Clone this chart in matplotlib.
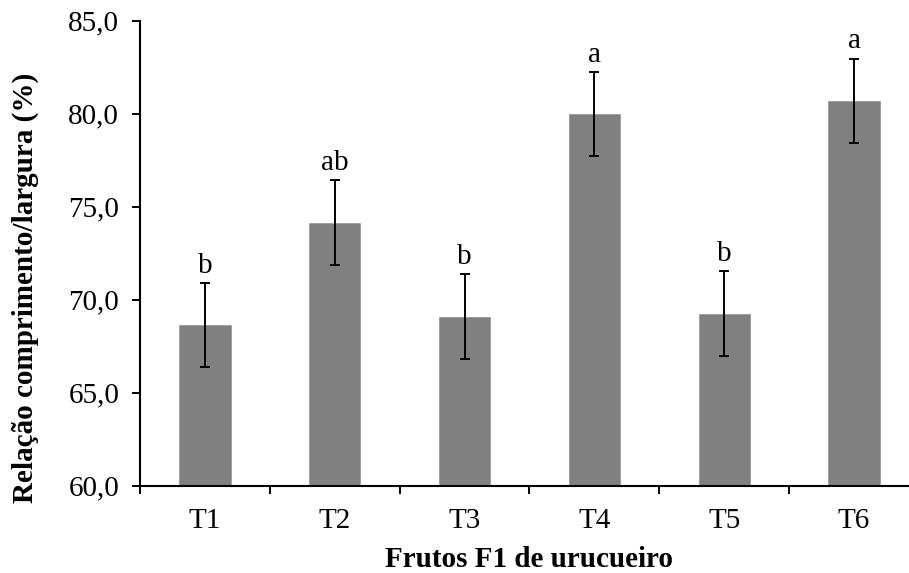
import matplotlib
matplotlib.use("Agg")
import matplotlib.pyplot as plt
from matplotlib.ticker import FuncFormatter, FixedLocator

# Relação comprimento/largura dos frutos F1 de urucueiro
tratamentos = ["T1", "T2", "T3", "T4", "T5", "T6"]
medias = [68.64, 74.14, 69.09, 79.97, 69.25, 80.70]
erros = [2.27, 2.28, 2.27, 2.27, 2.29, 2.26]
letras = ["b", "ab", "b", "a", "b", "a"]

plt.rcParams["font.family"] = ["Liberation Serif", "DejaVu Serif"]
FS = 21

fig = plt.figure(figsize=(9.09, 5.73), dpi=100)
ax = fig.add_axes([0.154, 0.1524, 0.857, 0.8115])

x = range(len(tratamentos))
ax.bar(x, medias, width=0.395, color="#808080", edgecolor="#9a9a9a", linewidth=0.6,
       zorder=2)
ax.errorbar(x, medias, yerr=erros, fmt="none", ecolor="black", elinewidth=1.4,
            capsize=3.6, capthick=1.4, zorder=3)

for xi, m, e, l in zip(x, medias, erros, letras):
    ax.annotate(l, (xi, m + e), xytext=(0, 3), textcoords="offset points",
                ha="center", va="bottom", fontsize=FS)

ax.set_ylim(60, 85)
ax.set_xlim(-0.5, len(tratamentos) - 0.5)
ax.set_yticks([60, 65, 70, 75, 80, 85])
ax.yaxis.set_major_formatter(FuncFormatter(lambda v, p: f"{v:.1f}".replace(".", ",")))

ax.set_xticks(list(x))
ax.set_xticklabels(tratamentos)
ax.xaxis.set_minor_locator(FixedLocator([i - 0.5 for i in range(len(tratamentos) + 1)]))
ax.tick_params(axis="x", which="major", length=0, pad=16, labelsize=FS)
ax.tick_params(axis="x", which="minor", length=6, width=1.4, direction="out")
ax.tick_params(axis="y", length=6, width=1.4, direction="out", labelsize=FS, pad=9)

for s in ["top", "right"]:
    ax.spines[s].set_visible(False)
for s in ["left", "bottom"]:
    ax.spines[s].set_linewidth(1.5)

ax.set_xlabel("Frutos F1 de urucueiro", fontsize=FS, fontweight="bold", labelpad=9)
ax.set_ylabel("Relação comprimento/largura (%)", fontsize=FS, fontweight="bold")
ax.yaxis.set_label_coords(-0.13, 0.426)

fig.savefig("out.png", dpi=100)
